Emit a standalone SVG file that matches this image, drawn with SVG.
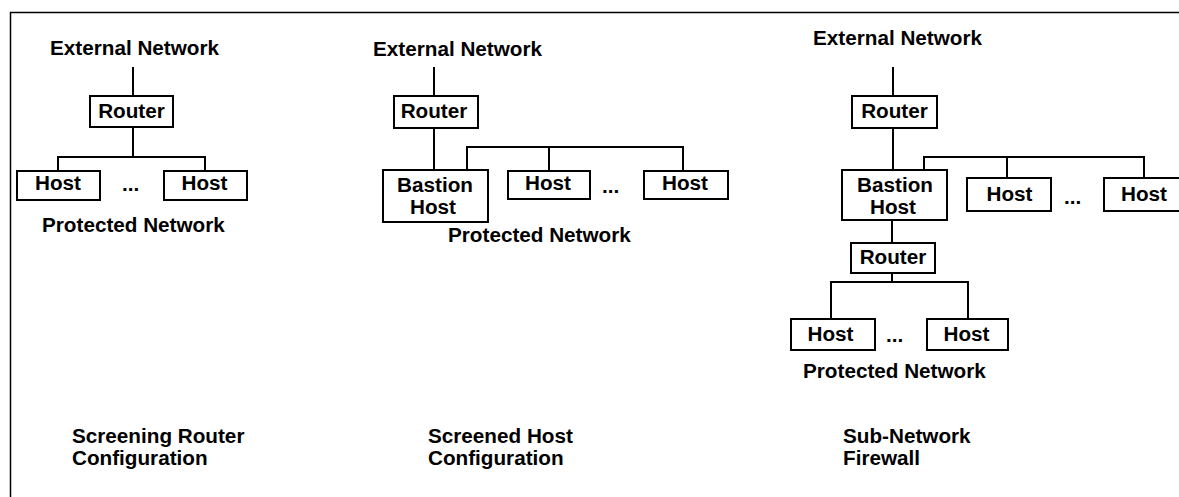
<svg xmlns="http://www.w3.org/2000/svg" width="1179" height="497" viewBox="0 0 1179 497">
<style>
text{font-family:"Liberation Sans",Arial,sans-serif;font-weight:bold;font-size:20.7px;fill:#000}
.c{text-anchor:middle}
.box{fill:#fff;stroke:#000;stroke-width:2}
.ln{fill:none;stroke:#000;stroke-width:2}
.frame{fill:none;stroke:#000;stroke-width:1.5}
</style>
<rect width="1179" height="497" fill="#fff"/>
<path class="frame" d="M10.5,497 V12.5 H1179"/>
<g id="connectors">
<path class="ln" d="M133,67 V96 M133,127 V157 M58,171 V157 H205 V171"/>
<path class="ln" d="M434,67 V96 M434,128 V170 M467,170 V147 H683 V171 M549,147 V171"/>
<path class="ln" d="M893,67 V96 M893,128 V170 M924,170 V157 H1144 V178 M1007,157 V178 M892,220 V243 M892,273 V282 M831,319 V282 H968 V319"/>
</g>
<g id="diagram1">
<text id="ext1" x="50" y="55">External Network</text>
<g id="router1"><rect class="box" x="90" y="96" width="83" height="31"/><text class="c" x="131.5" y="118">Router</text></g>
<g id="host1a"><rect class="box" x="17" y="171" width="83" height="29"/><text class="c" x="58" y="190">Host</text></g>
<text x="122" y="191">...</text>
<g id="host1b"><rect class="box" x="164" y="171" width="83" height="29"/><text class="c" x="204.5" y="190">Host</text></g>
<text id="prot1" x="42" y="232">Protected Network</text>
<text id="cap1" x="72" y="443">Screening Router<tspan x="72" y="465">Configuration</tspan></text>
</g>
<g id="diagram2">
<text id="ext2" x="373" y="56">External Network</text>
<g id="router2"><rect class="box" x="394" y="96" width="84" height="32"/><text class="c" x="434" y="118">Router</text></g>
<g id="bastion2"><rect class="box" x="383" y="170" width="105" height="52"/><text class="c" x="435" y="192">Bastion</text><text class="c" x="433" y="214">Host</text></g>
<g id="host2a"><rect class="box" x="508" y="171" width="82" height="28"/><text class="c" x="548" y="190">Host</text></g>
<text x="602" y="193">...</text>
<g id="host2b"><rect class="box" x="644" y="171" width="84" height="28"/><text class="c" x="685" y="190">Host</text></g>
<text id="prot2" x="448" y="242">Protected Network</text>
<text id="cap2" x="428" y="443">Screened Host<tspan x="428" y="465">Configuration</tspan></text>
</g>
<g id="diagram3">
<text id="ext3" x="813" y="45">External Network</text>
<g id="router3"><rect class="box" x="852" y="96" width="85" height="32"/><text class="c" x="894.5" y="118">Router</text></g>
<g id="bastion3"><rect class="box" x="842" y="170" width="105" height="50"/><text class="c" x="895" y="192">Bastion</text><text class="c" x="893" y="214">Host</text></g>
<g id="host3a"><rect class="box" x="967" y="178" width="84" height="33"/><text class="c" x="1009.5" y="201">Host</text></g>
<text x="1064" y="204">...</text>
<g id="host3b"><rect class="box" x="1104" y="178" width="90" height="33"/><text x="1121" y="201">Host</text></g>
<g id="router3b"><rect class="box" x="851" y="243" width="84" height="30"/><text class="c" x="893" y="264">Router</text></g>
<g id="host3c"><rect class="box" x="791" y="319" width="84" height="31"/><text class="c" x="830.5" y="341">Host</text></g>
<text x="886" y="342">...</text>
<g id="host3d"><rect class="box" x="927" y="319" width="81" height="31"/><text class="c" x="966.5" y="341">Host</text></g>
<text id="prot3" x="803" y="378">Protected Network</text>
<text id="cap3" x="843" y="443">Sub-Network<tspan x="843" y="465">Firewall</tspan></text>
</g>
</svg>
